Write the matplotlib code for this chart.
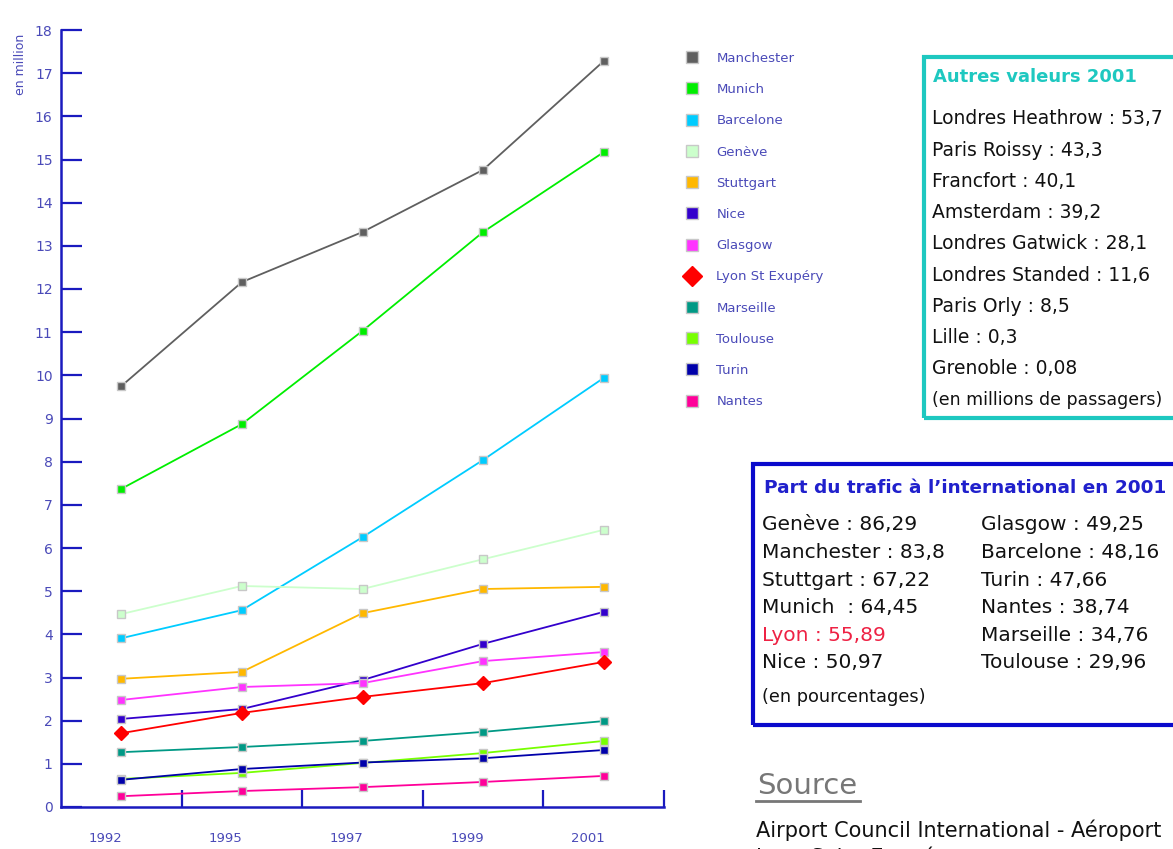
import matplotlib
matplotlib.use("Agg")
import matplotlib.pyplot as plt
import matplotlib.patches as mpatches
from matplotlib.transforms import ScaledTranslation, blended_transform_factory

years = ["1992", "1995", "1997", "1999", "2001"]
cities = ["Manchester", "Munich", "Barcelone", "Genève", "Stuttgart", "Nice",
          "Glasgow", "Lyon St Exupéry", "Marseille", "Toulouse", "Turin", "Nantes"]
manchester = [9.75, 12.16, 13.32, 14.76, 17.28]
munich = [7.37, 8.87, 11.03, 13.32, 15.17]
barcelone = [3.91, 4.56, 6.25, 8.04, 9.94]
geneve = [4.47, 5.12, 5.05, 5.74, 6.42]
stuttgart = [2.97, 3.13, 4.49, 5.05, 5.10]
nice = [2.04, 2.27, 2.94, 3.78, 4.52]
glasgow = [2.48, 2.78, 2.87, 3.38, 3.59]
lyon = [1.71, 2.18, 2.55, 2.87, 3.36]
marseille = [1.27, 1.39, 1.53, 1.74, 1.99]
toulouse = [0.65, 0.79, 1.02, 1.25, 1.53]
turin = [0.63, 0.88, 1.03, 1.13, 1.32]
nantes = [0.25, 0.37, 0.46, 0.58, 0.72]
series = [manchester, munich, barcelone, geneve, stuttgart, nice,
          glasgow, lyon, marseille, toulouse, turin, nantes]
colors = ["#5f5f5f", "#00ee00", "#00ccff", "#ccffcc", "#ffb800", "#3300cc",
          "#ff33ff", "#ff0000", "#009985", "#77ff00", "#0000aa", "#ff0099"]

autres_title = "Autres valeurs 2001"
autres = ["Londres Heathrow : 53,7", "Paris Roissy : 43,3", "Francfort : 40,1",
          "Amsterdam : 39,2", "Londres Gatwick : 28,1", "Londres Standed : 11,6",
          "Paris Orly : 8,5", "Lille : 0,3", "Grenoble : 0,08",
          "(en millions de passagers)"]
part_title = "Part du trafic à l\u2019international en 2001"
part_col1 = ["Genève : 86,29", "Manchester : 83,8", "Stuttgart : 67,22",
             "Munich  : 64,45", "Lyon : 55,89", "Nice : 50,97"]
part_col2 = ["Glasgow : 49,25", "Barcelone : 48,16", "Turin : 47,66",
             "Nantes : 38,74", "Marseille : 34,76", "Toulouse : 29,96"]

W, H = 1173, 849
fig = plt.figure(figsize=(W / 100, H / 100), dpi=100)
def fx(x): return x / W
def fy(y): return 1 - y / H

axis_blue = "#1a1abf"
label_blue = "#4a4ab8"

ax = fig.add_axes([fx(61), fy(807), fx(664) - fx(61), fy(30) - fy(807)])
x = list(range(len(years)))
for name, vals, c in zip(cities, series, colors):
    if name.startswith("Lyon"):
        ax.plot(x, vals, color=c, lw=1.3, marker="D", ms=7, mec=c, mfc=c,
                label=name, zorder=3)
    else:
        ax.plot(x, vals, color=c, lw=1.3, marker="s", ms=6, mec="#c8c8c8",
                mew=1, mfc=c, label=name, zorder=3)

ax.set_xlim(-0.5, 4.5)
ax.set_ylim(0, 18)
for s in ["top", "right"]:
    ax.spines[s].set_visible(False)
for s in ["left", "bottom"]:
    ax.spines[s].set_color(axis_blue)
    ax.spines[s].set_linewidth(1.8)
ax.set_yticks(range(0, 19))
ax.tick_params(axis="y", direction="in", length=15, width=1.6, color=axis_blue,
               labelcolor=label_blue, labelsize=10, pad=6)
ax.set_xticks([0.5, 1.5, 2.5, 3.5, 4.5])
ax.set_xticklabels([])
ax.tick_params(axis="x", direction="in", length=12, width=1.6, color=axis_blue)

tr = blended_transform_factory(ax.transData, ax.transAxes) + \
    ScaledTranslation(-16 / 100, -31 / 100, fig.dpi_scale_trans)
for i, yr in enumerate(years):
    ax.text(i, 0, yr, transform=tr, ha="center", va="center", color=label_blue,
            fontsize=9.5)

fig.text(fx(20), fy(64), "en million", rotation=90, ha="center", va="center",
         color=label_blue, fontsize=9)

leg = fig.legend(*ax.get_legend_handles_labels(), loc="upper left",
                 bbox_to_anchor=(fx(680), fy(40)), frameon=False,
                 handlelength=0.0, handletextpad=1.85, labelspacing=1.38,
                 markerscale=1.5, prop={"size": 9.5})
for t in leg.get_texts():
    t.set_color(label_blue)
for h in leg.legend_handles:
    h.set_linestyle("none")

# Box 1: Autres valeurs 2001
teal = "#1ec8c0"
fig.patches.append(mpatches.Rectangle((fx(924), fy(418)), fx(400), fy(57) - fy(418),
                                      transform=fig.transFigure, fill=False,
                                      edgecolor=teal, lw=3))
fig.text(fx(933), fy(77), autres_title, color=teal, fontsize=13,
         fontweight="bold", va="center", ha="left")
for i, t in enumerate(autres):
    size = 12.5 if t.startswith("(") else 13.5
    fig.text(fx(932), fy(119 + i * 31.2), t, color="#111111", fontsize=size,
             va="center", ha="left")

# Box 2: Part du trafic
dblue = "#0a0acc"
fig.patches.append(mpatches.Rectangle((fx(753), fy(725)), fx(500), fy(464) - fy(725),
                                      transform=fig.transFigure, fill=False,
                                      edgecolor=dblue, lw=3))
fig.text(fx(764), fy(488), part_title, color="#2020cc", fontsize=13.3,
         fontweight="bold", va="center", ha="left")
for i, t in enumerate(part_col1):
    c = "#ee2244" if t.startswith("Lyon") else "#111111"
    fig.text(fx(762), fy(525 + i * 27.6), t, color=c, fontsize=14.5,
             va="center", ha="left")
for i, t in enumerate(part_col2):
    fig.text(fx(981), fy(525 + i * 27.6), t, color="#111111", fontsize=14.5,
             va="center", ha="left")
fig.text(fx(762), fy(697), "(en pourcentages)", color="#111111", fontsize=12.8,
         va="center", ha="left")

# Source
fig.text(fx(757), fy(786), "Source", color="#777777", fontsize=21,
         va="center", ha="left")
fig.add_artist(plt.Line2D([fx(756), fx(860)], [fy(801), fy(801)],
                          transform=fig.transFigure, color="#777777", lw=2))
fig.text(fx(756), fy(830), "Airport Council International - Aéroport",
         color="#111111", fontsize=15, va="center", ha="left")
fig.text(fx(756), fy(857), "Lyon Saint Exupéry", color="#111111", fontsize=15,
         va="center", ha="left")

fig.savefig("out.png", dpi=100)
